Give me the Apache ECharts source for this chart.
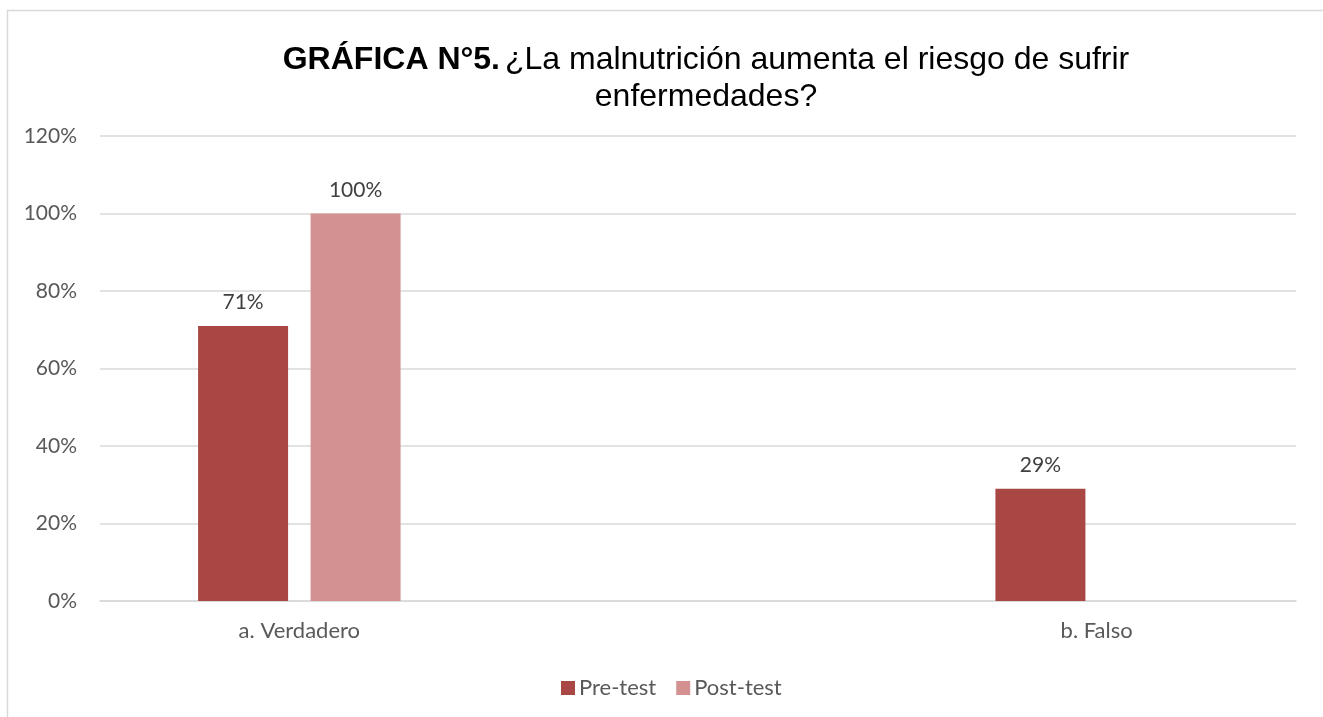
<!DOCTYPE html>
<html>
<head>
<meta charset="utf-8">
<script src="https://cdn.jsdelivr.net/npm/echarts@6/dist/echarts.min.js"></script>
<style>
  html, body { margin: 0; padding: 0; background: #fff; }
  #chart { width: 1323px; height: 717px; }
</style>
</head>
<body>
<div id="chart"></div>
<script>
// datos (categoría central vacía)
const categories = ["a. Verdadero", "", "b. Falso"];
const preTest = [71, null, 29];
const postTest = [100, null, null];
const seriesNames = ["Pre-test", "Post-test"];
const yTicks = { min: 0, max: 120, step: 20 };

const labelFont = "Lato, 'Open Sans', sans-serif";
const chart = echarts.init(document.getElementById("chart"));

const option = {
  backgroundColor: "#fff",
  animation: false,
  title: {
    text: "{b|GRÁFICA N°5.} {n|¿La malnutrición aumenta el riesgo de sufrir}\n{n|enfermedades?}",
    left: 701,
    top: 37,
    textAlign: "center",
    textStyle: {
      rich: {
        b: { fontFamily: "'Liberation Sans', Arial", fontWeight: "bold", fontSize: 32, color: "#000", lineHeight: 37 },
        n: { fontFamily: "'Liberation Sans', Arial", fontWeight: "normal", fontSize: 32, color: "#000", lineHeight: 37 },
      },
    },
  },
  graphic: [
    {
      // marco del gráfico
      type: "rect",
      shape: { x: 7.5, y: 10.5, width: 1400, height: 800 },
      style: { fill: "none", stroke: "#d9d9d9", lineWidth: 1.5 },
      silent: true,
    },
  ],
  legend: {
    left: 556,
    top: 672,
    itemWidth: 14,
    itemHeight: 14,
    itemGap: 20,
    icon: "rect",
    textStyle: { fontFamily: labelFont, fontSize: 22, color: "#595959", padding: [0, 0, 0, -1] },
    data: seriesNames,
  },
  grid: { left: 100, right: 27, top: 136, bottom: 116, containLabel: false },
  xAxis: {
    type: "category",
    data: categories,
    axisLine: { lineStyle: { color: "#d9d9d9", width: 1.5 } },
    axisTick: { show: false },
    axisLabel: { fontFamily: labelFont, fontSize: 22, color: "#595959", margin: 19 },
  },
  yAxis: {
    type: "value",
    min: yTicks.min,
    max: yTicks.max,
    interval: yTicks.step,
    axisLine: { show: false },
    axisTick: { show: false },
    splitLine: { lineStyle: { color: "#d9d9d9", width: 1.5 } },
    axisLabel: {
      fontFamily: labelFont,
      fontSize: 21,
      color: "#595959",
      margin: 23,
      formatter: (v) => v + "%",
    },
  },
  series: [
    {
      name: seriesNames[0],
      type: "bar",
      data: preTest,
      barWidth: 90,
      barGap: "25%",
      itemStyle: { color: "#a94745" },
      label: {
        show: true,
        position: "top",
        distance: 13,
        fontFamily: labelFont,
        fontSize: 21,
        color: "#404040",
        formatter: (p) => p.value + "%",
      },
    },
    {
      name: seriesNames[1],
      type: "bar",
      data: postTest,
      barWidth: 90,
      barGap: "25%",
      itemStyle: { color: "#d39191" },
      label: {
        show: true,
        position: "top",
        distance: 13,
        fontFamily: labelFont,
        fontSize: 21,
        color: "#404040",
        formatter: (p) => p.value + "%",
      },
    },
  ],
};

chart.setOption(option);
</script>
</body>
</html>
